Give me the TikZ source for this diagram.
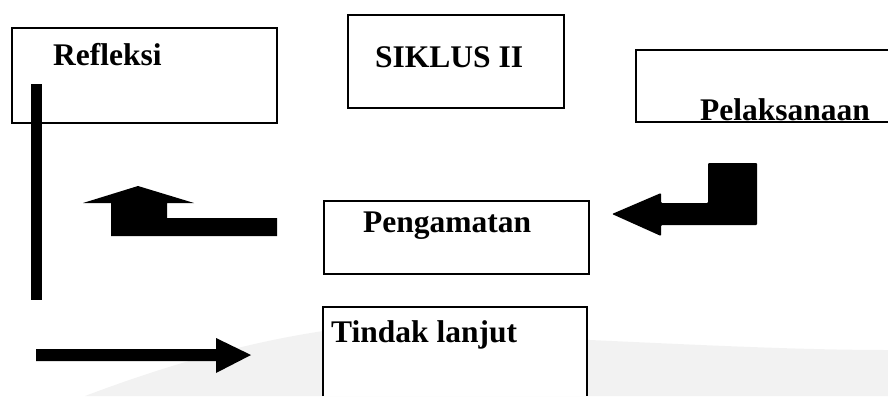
\documentclass[tikz,border=0pt]{standalone}
\usepackage{fontspec}
\setmainfont{Liberation Serif}
\begin{document}
\begin{tikzpicture}[x=1pt,y=-1pt,
  box/.style={draw=black,line width=1.6pt,fill=white},
  lbl/.style={anchor=base west,inner sep=0pt,font=\fontsize{31.5}{32}\selectfont\bfseries},
  blk/.style={fill=black,draw=none}]
\useasboundingbox (0,0) rectangle (888,396);
% faint watermark swoosh
\fill[black!5] (85,396) .. controls (180,360) and (260,340) .. (330,330)
  -- (590,340) .. controls (700,345) and (800,350) .. (888,350) -- (888,396) -- cycle;
% boxes
\node[box,minimum width=265pt,minimum height=95pt,anchor=north west] (refl) at (11,27) {};
\node[box,minimum width=216pt,minimum height=93pt,anchor=north west] (siklus) at (347,14) {};
\fill[white] (636,50) rectangle (888,122);
\draw[line width=1.6pt] (888,50) -- (636,50) -- (636,122) -- (888,122);
\coordinate (pelTL) at (636,50);
\node[box,minimum width=265pt,minimum height=73pt,anchor=north west] (peng) at (323,200) {};
\fill[white] (323,307) rectangle (587,396);
\draw[line width=1.6pt] (323,396) -- (323,307) -- (587,307) -- (587,396);
\coordinate (tindTL) at (323,307);
% labels
\node[lbl] (t1) at (53,66) {Refleksi};
\node[lbl] (t2) at (375,67) {SIKLUS II};
\node[lbl] (t3) at (700,120) {Pelaksanaan};
\node[lbl] (t4) at (363,232) {Pengamatan};
\node[lbl] (t5) at (331,342) {Tindak lanjut};
% block arrows
\fill[blk] (31,84) rectangle (42,300);
\fill[blk] (83,203) -- (138,186) -- (194,203) -- (167,203) -- (167,218) -- (277,218)
  -- (277,236) -- (111,236) -- (111,203) -- cycle;
\fill[blk,rounded corners=1pt] (612,214) -- (661,193) -- (661,203) -- (708,203) -- (708,163)
  -- (757,163) -- (757,225) -- (661,225) -- (661,236) -- cycle;
\fill[blk] (36,349) -- (216,349) -- (216,338) -- (251,355) -- (216,373) -- (216,361)
  -- (36,361) -- cycle;
\end{tikzpicture}
\end{document}
